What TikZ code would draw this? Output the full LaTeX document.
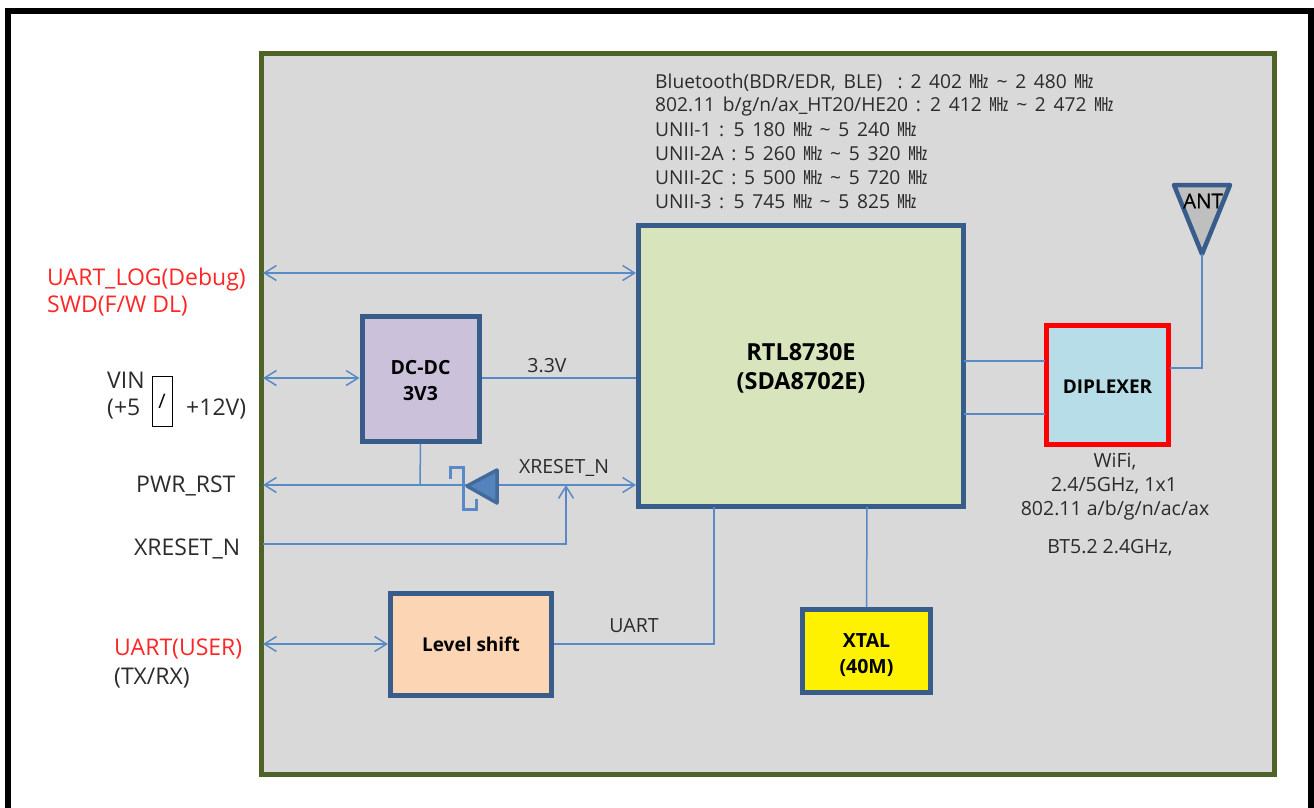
\documentclass[tikz,border=0pt]{standalone}
\usepackage{fontspec}
\setmainfont{Open Sans}
\newfontfamily\cjkf{Noto Sans CJK KR}
\newfontfamily\antf[FakeBold=0.5]{Open Sans}
\usetikzlibrary{arrows.meta}
\definecolor{panelgray}{HTML}{D9D9D9}
\definecolor{panelborder}{HTML}{4F6228}
\definecolor{boxborder}{HTML}{385D8A}
\definecolor{wire}{HTML}{5A8AC6}
\definecolor{txt}{HTML}{2B2B2B}
\newcommand{\mhz}{{\cjkf\fontsize{19}{19}\selectfont ㎒}}
\newcommand{\dn}[2]{\raisebox{-#1}[\height][\depth]{#2}}
\newcommand{\wsp}{\spaceskip 7.7pt\relax}
\tikzset{
  x=1pt,y=-1pt,
  blk/.style={draw=boxborder,line width=5pt,minimum width=#1,inner sep=0pt,align=center,font=\fontsize{19.5}{26}\selectfont\bfseries,text=black},
  wl/.style={draw=wire,line width=1.5pt},
  tip/.style={wl,{Straight Barb[length=12pt,width=15pt,line width=1.5pt]}-{Straight Barb[length=12pt,width=15pt,line width=1.5pt]}},
  tipe/.style={wl,-{Straight Barb[length=12pt,width=15pt,line width=1.5pt]}},
  lab/.style={inner sep=0pt,anchor=west,font=\fontsize{19.2}{22}\selectfont\wsp,text=txt},
  sml/.style={inner sep=0pt,font=\fontsize{19.5}{22}\selectfont,text=txt},
  redl/.style={inner sep=0pt,anchor=west,font=\fontsize{23}{23}\selectfont,text=red!85!white},
  blkl/.style={inner sep=0pt,anchor=west,font=\fontsize{23}{23}\selectfont,text=txt},
}
\begin{document}
\begin{tikzpicture}
\useasboundingbox (0,0) rectangle (1314,807);
\fill[white] (0,0) rectangle (1314,807);
\draw[black,line width=6pt] (1311,812) -- (1311,11) -- (8,11) -- (8,812);
\node[coordinate] (pnw) at (261,53) {};
\node[coordinate] (pse) at (1274.5,774.5) {};
\draw[panelborder,line width=5pt,fill=panelgray] (pnw) rectangle (pse);
% boxes
\node[blk=325pt,fill={rgb,255:red,216;green,228;blue,188},minimum height=281pt,font=\fontsize{23.5}{29}\selectfont\bfseries] (rtl) at (801,365.5) {\dn{2.5pt}{RTL8730E}\\\dn{2.5pt}{(SDA8702E)}};
\node[blk=117pt,fill={rgb,255:red,204;green,193;blue,218},minimum height=125pt] (dc) at (420.5,378.5) {\dn{2pt}{DC-DC}\\\dn{2pt}{3V3}};
\node[blk=161pt,fill={rgb,255:red,252;green,213;blue,180},minimum height=102pt,font=\fontsize{19}{25}\selectfont\bfseries] (ls) at (471,644) {Level shift};
\node[blk=128pt,fill=yellow,minimum height=83pt] (xtal) at (866.5,651) {\dn{4pt}{XTAL}\\\dn{4pt}{(40M)}};
\node[blk=122pt,draw=red,line width=5pt,fill={rgb,255:red,183;green,221;blue,232},minimum height=119pt,font=\fontsize{19}{25}\selectfont\bfseries] (dip) at (1107.5,385) {\dn{2pt}{DIPLEXER}};
% antenna
\coordinate (anttip) at (1202,254);
\draw[boxborder,line width=4.5pt,line join=round,fill={rgb,255:red,191;green,191;blue,191}] (1174,185) -- (1230,185) -- (anttip) -- cycle;
\node[inner sep=0pt,font=\antf\fontsize{20.5}{22}\selectfont,text=black] (antl) at (1203,201) {ANT};
% edge coordinates
\coordinate (eA) at (263,273);
\coordinate (eB) at (263,378);
\coordinate (eC) at (263,485);
\coordinate (eD) at (263,544);
\coordinate (eE) at (263,644);
\coordinate (rA) at (rtl.west |- eA);
\coordinate (rB) at (rtl.west |- eB);
\coordinate (rC) at (rtl.west |- eC);
\coordinate (junc) at (566,485);
\coordinate (djoin) at (420,485);
\coordinate (dio) at (482,485);
% wires
\draw[tip] (eA) -- (rA);
\draw[tip] (eB) -- (dc.west |- eB);
\draw[wl] (dc.east |- eB) -- (rB);
\draw[wl] (dc.south) -- (djoin);
\draw[tipe] (dio) -- (eC);
\draw[tipe] (dio) -- (rC);
\draw[tipe] (eD) -| (junc);
\draw[tip] (eE) -- (ls.west);
\draw[wl] (ls.east) -| (714,506.5);
\draw[wl] (867,506.5) -- (xtal.north);
\draw[wl] (963.5,361) -- (1045,361);
\draw[wl] (963.5,414) -- (1045,414);
\draw[wl] (1170,368) -| (anttip);
% Schottky diode
\draw[draw=boxborder!70!wire,line width=3.5pt,line join=round,fill=wire!85!boxborder] (497,470) -- (497,503) -- (467,486) -- cycle;
\draw[wire,line width=3pt] (450,479) -- (450,467) -- (463.5,467) -- (463.5,509) -- (476.5,509) -- (476.5,499);
% labels
\node[sml] (l33) at (547,366) {3.3V};
\node[sml] (lxr) at (564,468) {XRESET\_N};
\node[sml] (luart) at (634,626) {UART};
\node[lab] (freq1) at (655,82.5) {Bluetooth(BDR/EDR, BLE)~ : 2 402 \mhz{} {\char`~} 2 480 \mhz};
\node[lab] (freq2) at (655,106.5) {802.11 b/g/n/ax\_HT20/HE20 : 2 412 \mhz{} {\char`~} 2 472 \mhz};
\node[lab] (freq3) at (655,130) {UNII-1 : 5 180 \mhz{} {\char`~} 5 240 \mhz};
\node[lab] (freq4) at (655,154) {UNII-2A : 5 260 \mhz{} {\char`~} 5 320 \mhz};
\node[lab] (freq5) at (655,178) {UNII-2C : 5 500 \mhz{} {\char`~} 5 720 \mhz};
\node[lab] (freq6) at (655,202) {UNII-3 : 5 745 \mhz{} {\char`~} 5 825 \mhz};
\node[sml] (w1) at (1115,462) {WiFi,};
\node[sml] (w2) at (1114,486) {2.4/5GHz, 1x1};
\node[sml] (w3) at (1115,510) {802.11 a/b/g/n/ac/ax};
\node[sml] (w4) at (1110,548) {BT5.2 2.4GHz,};
\node[redl] (r1) at (47,279.5) {UART\_LOG(Debug)};
\node[redl] (r2) at (47,306) {SWD(F/W DL)};
\node[blkl] (v1) at (107,380) {VIN};
\node[blkl] (v2) at (107,409) {(+5};
\node[draw=black,line width=0.8pt,fill=white,minimum width=20pt,minimum height=50pt,inner sep=0pt,font=\fontsize{20}{20}\selectfont,text=black] (slash) at (162,401) {\raisebox{-6pt}{/}};
\node[blkl] (v3) at (186,409) {+12V)};
\node[blkl] (p) at (136,486) {PWR\_RST};
\node[blkl] (x) at (134,549) {XRESET\_N};
\node[redl] (u1) at (114,649) {UART(USER)};
\node[blkl] (u2) at (114,678) {(TX/RX)};
\end{tikzpicture}
\end{document}
